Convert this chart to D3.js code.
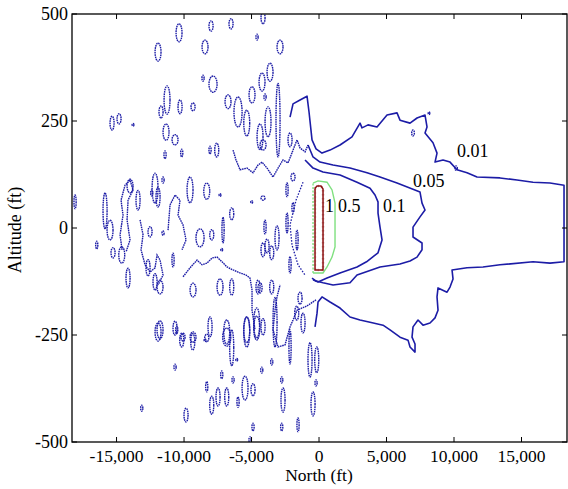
<!DOCTYPE html>
<html><head><meta charset="utf-8">
<script src="https://cdn.jsdelivr.net/npm/d3@7"></script>
<style>body{margin:0;background:#fff}svg{display:block}text{font-family:"Liberation Serif","Times New Roman",serif}</style>
</head><body>
<svg id="c" width="568" height="489"></svg>
<script>
// ---- data (North ft, Altitude ft) ----
const xTicks = [-15000,-10000,-5000,0,5000,10000,15000];
const yTicks = [-500,-250,0,250,500];
const levelLabels = ["1","0.5","0.1","0.05","0.01"];
const labelNorth = [444,1407,4741,6963,10222];
const labelAlt = [37,37,37,96,166];

const contour001 = [[-2148,259],[-1926,290],[-1407,299],[-889,308],[-741,271],[-519,206],[-222,185],[222,175],[815,182],[1556,194],[2444,213],[3037,245],[3185,234],[3630,241],[4296,236],[5037,264],[5778,269],[6000,252],[6741,245],[7259,257],[7852,264],[8000,236],[7852,222],[8444,199],[8741,175],[8593,154],[9185,159],[9704,154],[10222,136],[10963,129],[11704,119],[13407,117],[14667,112],[15852,107],[17111,105],[18150,100],[18150,-79],[17111,-82],[15852,-79],[13407,-86],[12148,-91],[10963,-93],[9852,-98],[9926,-119],[9704,-138],[9482,-150],[8815,-140],[8741,-161],[8815,-192],[8593,-210],[8222,-222],[7704,-227],[7333,-215],[6963,-231],[6889,-255],[7111,-271],[7111,-290],[6741,-278],[6593,-262],[6000,-255],[5259,-238],[4741,-227],[3778,-220],[3037,-215],[2296,-208],[1556,-187],[815,-173],[222,-161],[-74,-173],[-148,-199],[-296,-231]];
const contour005 = [[-815,194],[-444,166],[74,154],[1037,147],[2296,140],[3556,129],[4519,119],[5778,105],[7481,84],[7630,58],[7852,42],[7481,26],[6963,2],[6963,-21],[7630,-35],[7630,-51],[7259,-68],[6741,-77],[6000,-84],[4519,-91],[2815,-110],[2296,-128],[1037,-133],[296,-128],[-222,-124],[-519,-117]];
const contour01 = [[-1037,159],[-444,140],[296,131],[1556,124],[2815,107],[3778,93],[4148,77],[4370,61],[4370,35],[4519,2],[4667,-28],[4370,-58],[3963,-68],[3519,-79],[2815,-91],[1556,-105],[593,-117],[-74,-126],[-444,-121]];
const contour01Left = [[-1185,107],[-1704,65],[-2148,7],[-2000,-40],[-1556,-86],[-1037,-110]];
const contour05 = [[-444,105],[-74,110],[593,107],[963,89],[1185,58],[1185,-44],[963,-68],[593,-91],[296,-105],[-444,-105]];
const contour05Left = [[-444,-105],[-444,-28],[-444,105]];
const contour1 = [[-296,93],[-148,98],[148,98],[296,91],[296,-98],[-296,-98],[-296,93]];

// wiggly low-level fragments
const wiggles = [
 [[-6370,182],[-6148,159],[-5852,136],[-5333,140],[-4889,129],[-4519,147],[-4222,154],[-3852,140],[-3407,119],[-3037,140],[-2667,159],[-2296,152],[-1926,182],[-1630,206],[-1407,187],[-1037,178],[-815,194]],
 [[-10074,-114],[-9555,-93],[-9037,-75],[-8667,-86],[-8296,-82],[-7926,-70],[-7556,-68],[-7185,-79],[-6815,-91],[-6370,-98],[-5852,-105],[-5407,-110],[-5111,-117],[-4963,-145],[-4963,-192],[-4741,-238]],
 [[-222,-168],[-889,-182],[-1630,-192],[-1926,-215],[-2148,-231],[-2519,-273],[-3037,-278],[-3407,-238],[-3259,-192],[-3111,-161],[-2889,-133]],
 [[-14593,-51],[-14741,-16],[-14519,30],[-14667,65],[-14370,100],[-14000,112],[-13778,89],[-14148,65],[-14222,19],[-14000,-28],[-14296,-56]],
 [[-13259,19],[-13037,-16],[-13185,-51],[-12889,-86],[-12519,-103],[-12148,-93],[-12000,-63],[-11778,-75],[-11556,-110],[-11926,-133]],
 [[-11185,-5],[-11037,54],[-10667,77],[-10296,65],[-10444,30],[-10074,7],[-9852,-28],[-10148,-51]]
];

// small closed low-level contours: [north, alt, halfWidthFt, halfHeightFt]
const blobs = [
[-4148,491,150,14],[-8000,472,150,12],[-6519,477,150,12],[-10370,456,220,21],[-11926,411,220,21],[-8444,423,220,16],[-4593,446,80,7],[-2889,423,220,16],[-3630,364,220,21],[-4222,341,220,21],[-4963,311,220,19],[-8593,350,80,7],[-7852,336,300,19],[-11259,299,220,33],[-11333,224,220,19],[-11704,271,150,14],[-10296,283,150,16],[-9333,283,150,9],[-15333,245,150,16],[-14815,255,150,12],[-13778,241,70,3],[-10667,206,220,12],[-11407,171,80,9],[-10170,175,80,9],[-8074,182,80,9],[-7578,182,150,16],[-6741,295,220,16],[-6000,271,300,35],[-5355,245,220,30],[-4370,213,220,30],[-3778,248,220,35],[-3037,252,150,86],[-2148,206,150,16],[-4000,306,80,7],
[-18073,61,80,16],[-15851,40,150,42],[-15481,-5,220,23],[-16466,-40,80,9],[-15259,-58,150,12],[-14000,98,220,16],[-14615,-63,220,19],[-14148,-117,150,23],[-13407,65,150,23],[-12519,-9,150,12],[-12393,82,80,7],[-12148,93,220,35],[-11926,72,150,23],[-11556,112,80,7],[-12667,-93,150,19],[-12148,-126,150,19],[-11556,-12,80,5],[-10815,-75,80,16],[-9555,89,220,30],[-9333,-145,220,16],[-8815,-23,300,21],[-8318,86,220,19],[-7948,-16,150,12],[-7333,77,70,3],[-7111,-5,80,30],[-7207,-51,70,3],[-6467,33,150,14],[-4985,61,70,3],[-4148,70,150,5],[-4000,2,80,16],[-4148,-51,150,16],[-3504,-58,150,16],[-4615,-234,220,28],[-5355,-238,220,30],[-6837,-243,220,28],[-8318,-257,150,9],[-9333,-255,220,12],[-10074,-255,150,9],[-10541,-238,80,9],[-11778,-238,220,21],[-4370,-140,150,12],
[-11778,-138,220,16],[-7333,-138,220,19],[-6467,-138,150,19],[-4519,-138,150,16],[-3504,-138,150,16],[-11926,-243,220,21],[-10667,-234,150,16],[-10170,-262,150,16],[-9355,-266,150,19],[-8444,-262,70,3],[-8074,-231,150,23],[-6837,-255,300,21],[-6467,-280,150,42],[-6096,-308,70,3],[-5355,-243,220,35],[-4615,-222,220,35],[-4148,-231,150,19],[-3259,-220,150,58],[-2148,-278,80,40],[-1652,-199,150,16],[-1185,-222,150,23],[-667,-308,150,40],[-170,-308,150,30],[-10667,-325,80,7],[-7207,-343,80,9],[-6370,-355,80,7],[-8318,-371,80,12],[-7481,-395,150,21],[-6837,-395,150,21],[-6000,-407,80,12],[-5481,-374,220,28],[-4889,-378,150,14],[-4244,-332,80,7],[-3504,-313,80,7],[-2763,-355,80,7],[-2667,-402,150,28],[-444,-411,150,28],[-222,-362,80,7],[-7948,-414,150,21],[-9852,-437,150,16],[-13133,-421,80,7],[-4889,-465,80,9],[-2763,-465,80,9],[-1556,-460,80,16],[-5111,-495,80,7],
[-1926,119,150,9],[-2370,89,80,16],[-1926,47,80,12],[-3111,-23,150,28],[-3852,-42,150,16],[-2370,12,80,23],[-1630,-28,80,23],[-2148,-86,80,19],[-4148,194,220,12],[-1407,-164,150,14],
[10148,140,100,5],[6963,222,100,7],[8148,268,60,3]
];

// ---- drawing ----
const svg = d3.select("#c");
const L=72,R=567,T=14,B=442;
const x = d3.scaleLinear().domain([-18300,18370]).range([L,R]);
const y = d3.scaleLinear().domain([-500,500]).range([B,T]);
const blue = "#1c1ca6";

svg.append("defs").append("clipPath").attr("id","pc").append("rect")
  .attr("x",L).attr("y",T).attr("width",R-L).attr("height",B-T);
const g = svg.append("g").attr("clip-path","url(#pc)");
const line = d3.line().x(d=>x(d[0])).y(d=>y(d[1]));

g.selectAll("ellipse.b").data(blobs).join("ellipse").attr("class","b")
  .attr("cx",d=>x(d[0])).attr("cy",d=>y(d[1]))
  .attr("rx",d=>x(d[0]+d[2])-x(d[0])).attr("ry",d=>y(d[1])-y(d[1]+d[3]))
  .attr("fill","none").attr("stroke",blue).attr("stroke-width",1.4)
  .attr("stroke-dasharray","1.6,0.7");

wiggles.forEach(w=>{
  g.append("path").attr("d",line(w)).attr("fill","none").attr("stroke",blue)
   .attr("stroke-width",1.4).attr("stroke-dasharray","1.6,0.7");
});

g.append("path").attr("d",line(contour01Left)).attr("fill","none").attr("stroke",blue)
  .attr("stroke-width",1.3).attr("stroke-dasharray","1.5,1.5");

[contour001,contour005,contour01].forEach(c=>{
  g.append("path").attr("d",line(c)).attr("fill","none").attr("stroke",blue)
   .attr("stroke-width",1.6).attr("stroke-linejoin","round");
});

g.append("path").attr("d",line(contour05)).attr("fill","none").attr("stroke","#7fe07f").attr("stroke-width",1.4);
g.append("path").attr("d",line(contour05Left)).attr("fill","none").attr("stroke","#7fe07f").attr("stroke-width",1.4).attr("stroke-dasharray","2,1.5");
g.append("path").attr("d",line(contour1)).attr("fill","none").attr("stroke","#8b1010").attr("stroke-width",1.5);
g.append("path").attr("d",line(contour1)).attr("fill","none").attr("stroke","#8b1010").attr("stroke-width",2.6)
  .attr("stroke-dasharray","0.6,3.4").attr("opacity",0.6);

svg.selectAll("text.lab").data(levelLabels).join("text").attr("class","lab")
  .attr("x",(d,i)=>x(labelNorth[i])).attr("y",(d,i)=>y(labelAlt[i]))
  .attr("font-size",18).attr("fill","#000").text(d=>d);

svg.append("rect").attr("x",L).attr("y",T).attr("width",R-L).attr("height",B-T)
  .attr("fill","none").attr("stroke","#000").attr("stroke-width",1.3);

const fmt = d => d3.format(",")(d).replace("\u2212","-");
const tk = 5;
xTicks.forEach(v=>{
  svg.append("line").attr("x1",x(v)).attr("x2",x(v)).attr("y1",B).attr("y2",B-tk).attr("stroke","#000");
  svg.append("line").attr("x1",x(v)).attr("x2",x(v)).attr("y1",T).attr("y2",T+tk).attr("stroke","#000");
  svg.append("text").attr("x",x(v)).attr("y",B+20).attr("text-anchor","middle").attr("font-size",17.5).text(fmt(v));
});
yTicks.forEach(v=>{
  svg.append("line").attr("x1",L).attr("x2",L+tk).attr("y1",y(v)).attr("y2",y(v)).attr("stroke","#000");
  svg.append("line").attr("x1",R).attr("x2",R-tk).attr("y1",y(v)).attr("y2",y(v)).attr("stroke","#000");
  svg.append("text").attr("x",L-4).attr("y",y(v)).attr("dy","0.33em").attr("text-anchor","end").attr("font-size",18).text(fmt(v));
});
svg.append("text").attr("x",319).attr("y",481).attr("text-anchor","middle").attr("font-size",17.5).text("North (ft)");
svg.append("text").attr("transform","translate(21,230) rotate(-90)").attr("text-anchor","middle").attr("font-size",18).text("Altitude (ft)");
</script>
</body></html>
